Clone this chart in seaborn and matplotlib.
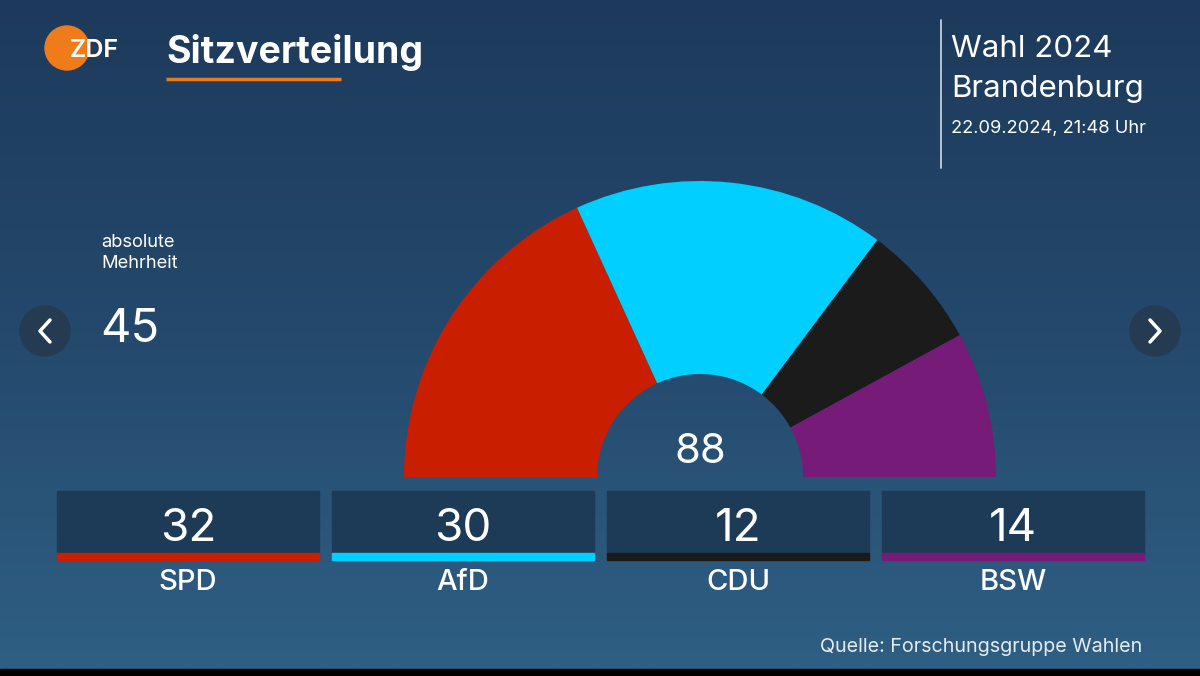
import matplotlib
matplotlib.use("Agg")
import matplotlib.pyplot as plt
import numpy as np
import seaborn as sns
from matplotlib.colors import LinearSegmentedColormap
from matplotlib.patches import Rectangle, Circle

# data
parties = ["SPD", "AfD", "CDU", "BSW"]
seats = [32, 30, 12, 14]
party_colors = ["#c91e00", "#00cfff", "#1b1b1b", "#761c78"]
majority = 45
title = "Sitzverteilung"
election = ["Wahl 2024", "Brandenburg"]
timestamp = "22.09.2024, 21:48 Uhr"
source = "Quelle: Forschungsgruppe Wahlen"

sns.set_theme(style="white")
plt.rcParams["font.family"] = ["Inter", "DejaVu Sans"]

fig = plt.figure(figsize=(12, 6.76), dpi=100)
ax = fig.add_axes([0, 0, 1, 1])  # pixel canvas
ax.set_xlim(0, 1200)
ax.set_ylim(676, 0)
ax.axis("off")

# background gradient
bg = LinearSegmentedColormap.from_list("bg", ["#1d3a5c", "#24496c", "#2f5f84"])
grad = np.linspace(0, 1, 256).reshape(-1, 1)
ax.imshow(grad, extent=[0, 1200, 669, 0], aspect="auto", cmap=bg, zorder=0)
ax.add_patch(Rectangle((0, 669), 1200, 7, color="black", zorder=1))

# logo
orange = "#ef7c1a"
logo = Circle((67, 48), 22, color=orange, zorder=2)
ax.add_patch(logo)
ax.text(70, 57, "ZDF", color=orange, fontsize=18, fontweight="semibold", zorder=3)
t = ax.text(70, 57, "ZDF", color="white", fontsize=18, fontweight="semibold", zorder=4)
t.set_clip_path(logo)

# title
ax.text(166, 63, title, color="white", fontsize=27, fontweight="bold", zorder=3)
ax.plot([166, 341], [79, 79], color=orange, lw=2.5, solid_capstyle="butt", zorder=3)

# top right
ax.plot([941, 941], [20, 168], color="#c5ced8", lw=1.3, zorder=3)
ax.text(951, 57, election[0], color="white", fontsize=22.5, zorder=3)
ax.text(951, 97, election[1], color="white", fontsize=22.5, zorder=3)
ax.text(951, 133, timestamp, color="white", fontsize=13.2, zorder=3)

# majority
ax.text(101, 247, "absolute", color="white", fontsize=13.2, zorder=3)
ax.text(101, 268, "Mehrheit", color="white", fontsize=13.2, zorder=3)
ax.text(100, 342, str(majority), color="white", fontsize=34, zorder=3)

# nav arrows
for cx, d in [(45, 1), (1155, -1)]:
    ax.add_patch(Circle((cx, 331), 25, color="#243b52", zorder=2))
    ax.plot([cx + 5 * d, cx - 5 * d, cx + 5 * d], [320, 331, 342],
            color="white", lw=2.5, solid_capstyle="round", zorder=3)

# hemicycle
total = sum(seats)
pax = fig.add_axes([(700 - 296) / 1200, (199 - 296) / 676, 592 / 1200, 592 / 676])
pax.pie(seats + [total], colors=party_colors + ["none"], startangle=180,
        counterclock=False, radius=1, wedgeprops=dict(width=1 - 103 / 296, linewidth=0))
pax.set_xlim(-1, 1)
pax.set_ylim(-1, 1)
pax.set_facecolor("none")
pax.axis("off")
ax.text(700, 463, str(total), color="white", fontsize=30, ha="center", zorder=3)

# party boxes
for i, (p, s, c) in enumerate(zip(parties, seats, party_colors)):
    x0 = 57 + i * 275
    ax.add_patch(Rectangle((x0, 491), 262, 62, color="#1d3a57", zorder=2))
    ax.add_patch(Rectangle((x0, 553), 262, 7, color=c, zorder=2))
    ax.text(x0 + 131, 541, str(s), color="white", fontsize=33, ha="center", zorder=3)
    ax.text(x0 + 131, 590, p, color="white", fontsize=21, ha="center",
            fontweight="medium", zorder=3)

ax.text(1142, 652, source, color="#e6ebf0", fontsize=14.2, ha="right", zorder=3)

fig.savefig("out.png", dpi=100)
